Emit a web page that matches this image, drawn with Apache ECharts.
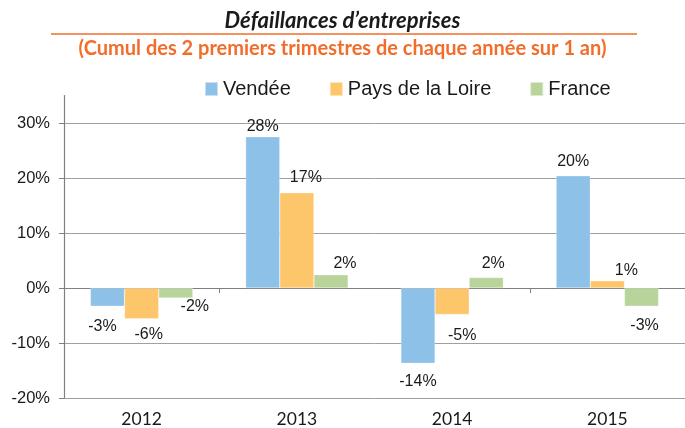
<!DOCTYPE html>
<html>
<head>
<meta charset="utf-8">
<script src="https://cdn.jsdelivr.net/npm/echarts@6/dist/echarts.min.js"></script>
<style>
  html, body { margin: 0; padding: 0; background: #fff; }
  #chart { width: 685px; height: 428px; }
</style>
</head>
<body>
<div id="chart"></div>
<script>
  // données
  var categories = ['2012', '2013', '2014', '2015'];
  var seriesNames = ['Vendée', 'Pays de la Loire', 'France'];
  var vendee = [-0.033, 0.275, -0.137, 0.204];
  var paysLoire = [-0.056, 0.173, -0.048, 0.013];
  var france = [-0.018, 0.024, 0.019, -0.033];
  var colors = ['#8EC1E8', '#FDC66B', '#B8D49B'];

  // décalage des étiquettes comme dans l'original [dx, dy]
  var labelShift = [
    [[-5, 12], [0, -2], [0, 10], [0, -6]],
    [[7, 8], [9, -7], [10, 13], [19, -2]],
    [[19, 1], [14, -3], [7, -6], [3, 11]]
  ];

  var myChart = echarts.init(document.getElementById('chart'));

  function barSeries(idx, values) {
    return {
      name: seriesNames[idx],
      type: 'bar',
      xAxisIndex: 0,
      barGap: 0,
      barCategoryGap: '34%',
      itemStyle: { borderColor: 'rgba(255,255,255,0.5)', borderWidth: 0.5 },
      data: values.map(function (v, i) {
        return {
          value: v,
          label: { position: v < 0 ? 'bottom' : 'top', offset: labelShift[idx][i] }
        };
      }),
      label: {
        show: true,
        distance: 0,
        color: '#1a1a1a',
        fontFamily: 'Liberation Sans',
        fontSize: 16,
        lineHeight: 16,
        formatter: function (p) { return Math.round(p.value * 100) + '%'; }
      }
    };
  }

  var option = {
    animation: false,
    color: colors,
    title: [{
      text: 'Défaillances d’entreprises',
      left: 'center',
      top: 5,
      textStyle: { fontFamily: 'Lato', fontStyle: 'italic', fontWeight: 'bold', fontSize: 22, color: '#1a1a1a' }
    }, {
      text: '(Cumul des 2 premiers trimestres de chaque année sur 1 an)',
      left: 'center',
      top: 34,
      textStyle: { fontFamily: 'Lato', fontWeight: 'bold', fontSize: 20, color: '#F26D2A' }
    }],
    graphic: [{
      type: 'line',
      shape: { x1: 51, y1: 34, x2: 637, y2: 34 },
      style: { stroke: '#F26D2A', lineWidth: 1.5 }
    }],
    legend: {
      data: seriesNames,
      top: 74,
      left: 199,
      itemWidth: 13,
      itemHeight: 14,
      itemGap: 38,
      icon: 'rect',
      textStyle: { fontFamily: 'Liberation Sans', fontSize: 20, color: '#1a1a1a' }
    },
    grid: { left: 64, right: -7, top: 95.5, bottom: 30 },
    xAxis: [{
      type: 'category',
      data: categories,
      axisLine: { onZero: true, lineStyle: { color: '#808080', width: 1.2 } },
      axisTick: {
        show: true,
        length: 5,
        interval: function (i) { return i === 1 || i === 3; },
        lineStyle: { color: '#808080' }
      },
      axisLabel: { show: false }
    }, {
      type: 'category',
      data: categories,
      position: 'bottom',
      axisLine: { show: false },
      axisTick: { show: false },
      axisLabel: { fontFamily: 'Lato', fontSize: 17.5, color: '#1a1a1a', margin: 12 }
    }],
    yAxis: {
      type: 'value',
      min: -0.2,
      max: 0.35,
      interval: 0.1,
      axisLine: { show: true, lineStyle: { color: '#808080', width: 1.2 } },
      axisTick: { show: true, length: 5, lineStyle: { color: '#808080' } },
      splitLine: { show: true, showMaxLine: false, lineStyle: { color: '#a0a0a0', width: 1 } },
      axisLabel: {
        showMaxLabel: false,
        fontFamily: 'Liberation Sans',
        fontSize: 16.5,
        color: '#1a1a1a',
        margin: 14,
        formatter: function (v) { return Math.round(v * 100) + '%'; }
      }
    },
    series: [
      barSeries(0, vendee),
      barSeries(1, paysLoire),
      barSeries(2, france)
    ]
  };

  myChart.setOption(option);
</script>
</body>
</html>
